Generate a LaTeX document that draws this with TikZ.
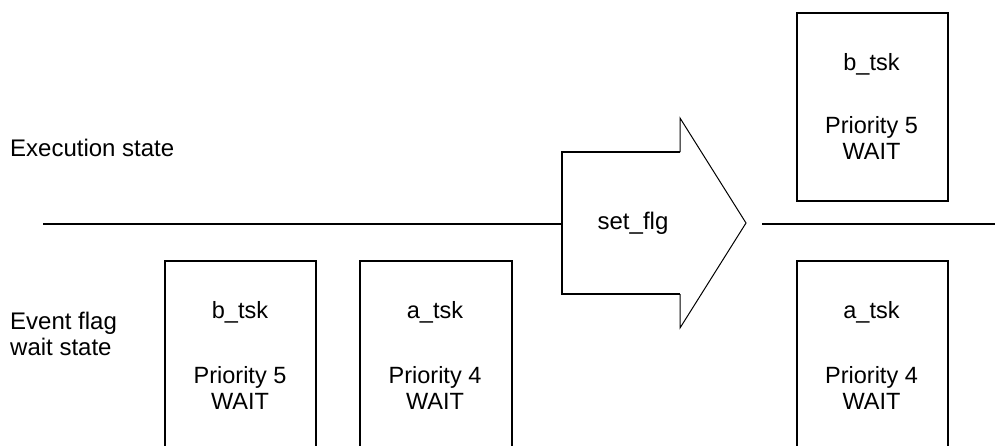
\documentclass[tikz,border=0pt]{standalone}
\usepackage{fontspec}
\setmainfont{Liberation Sans}
\begin{document}
\begin{tikzpicture}[x=1pt,y=-1pt,
  taskbox/.style={draw=black,line width=2pt},
  tasktext/.style={anchor=base,inner sep=0pt,font=\fontsize{23.5}{26}\selectfont},
  label/.style={anchor=base west,inner sep=0pt,align=left,font=\fontsize{24}{26}\selectfont},
  divider/.style={line width=2pt}]
\useasboundingbox (0,0) rectangle (995,445);
\begin{scope}
\clip (0,0) rectangle (995,445);

% state labels
\node[label] (exec) at (10,156) {Execution state};
\node[label] (evt)  at (10,329) {Event flag};
\node[label] (evt2) at (10,355) {wait state};

% state divider
\coordinate (dl) at (43,224);
\coordinate (dr) at (995,224);
\coordinate (al) at (562,224);
\coordinate (ar) at (762,224);
\draw[divider] (dl) -- (al);
\draw[divider] (ar) -- (dr);

% set_flg block arrow
\coordinate (st) at (680,152);
\coordinate (sb) at (680,294);
\draw[line width=2pt,line join=miter] (st) -- (562,152) -- (562,294) -- (sb);
\draw[line width=1pt,line join=miter] (st) -- (680,118) -- (746,223) -- (680,328) -- (sb);
\node[anchor=base,inner sep=0pt,font=\fontsize{24}{26}\selectfont] (flg) at (633,229) {set\_flg};

% waiting tasks
\node[taskbox,minimum width=151pt,minimum height=300pt,anchor=north west] (wb) at (164,260) {};
\node[taskbox,minimum width=152pt,minimum height=300pt,anchor=north west] (wa) at (359,260) {};
\node[tasktext] (wbn) at (240,318) {b\_tsk};
\node[tasktext] (wbp) at (240,383) {Priority 5};
\node[tasktext] (wbw) at (240,409) {WAIT};
\node[tasktext] (wan) at (435,318) {a\_tsk};
\node[tasktext] (wap) at (435,383) {Priority 4};
\node[tasktext] (waw) at (435,409) {WAIT};

% tasks after set_flg
\node[taskbox,minimum width=151pt,minimum height=188pt,anchor=north west] (rb) at (796,12) {};
\node[taskbox,minimum width=151pt,minimum height=300pt,anchor=north west] (ra) at (796,260) {};
\node[tasktext] (rbn) at (871.5,70) {b\_tsk};
\node[tasktext] (rbp) at (871.5,133) {Priority 5};
\node[tasktext] (rbw) at (871.5,159) {WAIT};
\node[tasktext] (ran) at (871.5,318) {a\_tsk};
\node[tasktext] (rap) at (871.5,383) {Priority 4};
\node[tasktext] (raw) at (871.5,409) {WAIT};
\end{scope}
\end{tikzpicture}
\end{document}
